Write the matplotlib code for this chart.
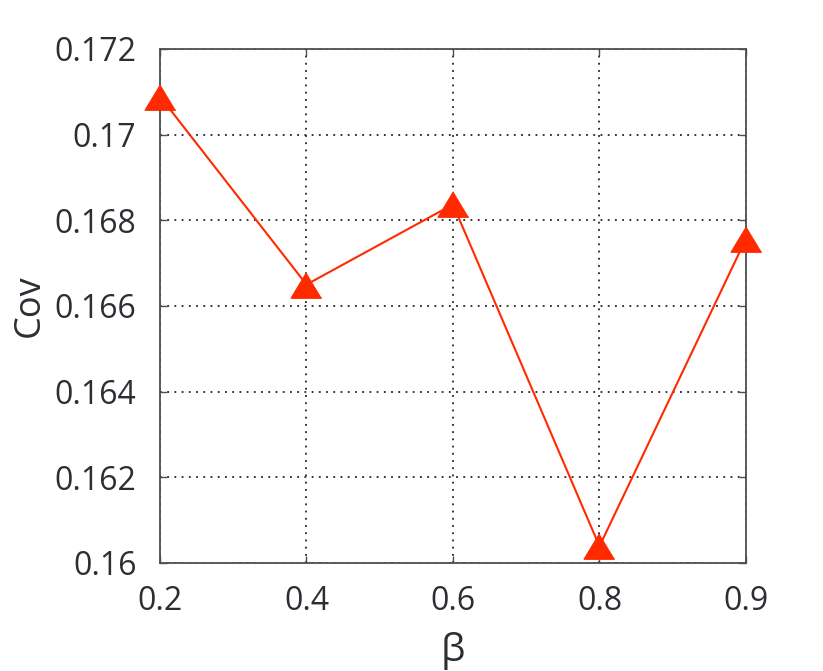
import matplotlib
matplotlib.use("Agg")
import matplotlib.pyplot as plt

beta_labels = ["0.2", "0.4", "0.6", "0.8", "0.9"]
cov_values = [0.17089, 0.16650, 0.16837, 0.16039, 0.16757]
y_ticks = [0.16, 0.162, 0.164, 0.166, 0.168, 0.17, 0.172]
y_tick_labels = ["0.16", "0.162", "0.164", "0.166", "0.168", "0.17", "0.172"]

plt.rcParams['font.family'] = ['Open Sans', 'DejaVu Sans']

fig = plt.figure(figsize=(8.23, 6.71), dpi=100)
ax = fig.add_axes([0.1944, 0.161, 0.712, 0.766])

x = list(range(len(beta_labels)))
tri = [(0, 0.83), (-1, -0.83), (1, -0.83)]
ax.plot(x, cov_values, color="#FF2A00", linewidth=1.5, marker=tri,
        markersize=22, markerfacecolor="#FF2A00", markeredgecolor="#FF2A00",
        clip_on=False, zorder=5)

ax.set_xlim(0, len(beta_labels) - 1)
ax.set_ylim(0.16, 0.172)
ax.set_xticks(x)
ax.set_xticklabels(beta_labels)
ax.set_yticks(y_ticks)
ax.set_yticklabels(y_tick_labels)

ax.grid(True, linestyle=(0, (1, 3)), color="#222222", linewidth=1.3)
for s in ax.spines.values():
    s.set_color("#4a4f52")
    s.set_linewidth(1.3)
ax.tick_params(axis="both", direction="in", length=5, width=1.0, color="#4a4f52",
               labelsize=23, labelcolor="#2b2f33", top=True, right=True)
ax.tick_params(axis="y", pad=17)
ax.tick_params(axis="x", pad=16)
ax.set_xlabel("β", fontsize=28, color="#2b2f33", labelpad=10)
ax.set_ylabel("Cov", fontsize=26, color="#2b2f33", labelpad=5)

fig.savefig("out.png", dpi=100, facecolor="white")
